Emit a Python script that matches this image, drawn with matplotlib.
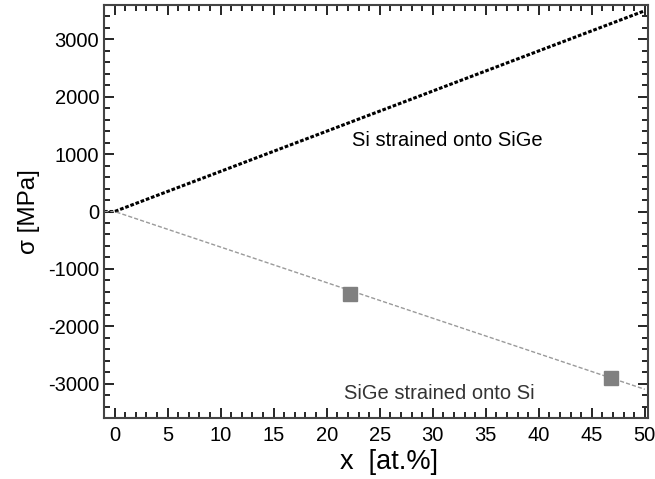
import matplotlib
matplotlib.use("Agg")
import matplotlib.pyplot as plt
from matplotlib.ticker import MultipleLocator

plt.rcParams['font.family'] = ['Liberation Sans', 'DejaVu Sans']
plt.rcParams['axes.unicode_minus'] = False

# Data
x_si = [-1, 0, 50]
sigma_si = [0, 0, 3500]
x_sige = [-1, 0, 50]
sigma_sige = [0, 0, -3100]
x_meas = [22.2, 46.8]
sigma_meas = [-1430, -2900]

fig = plt.figure(figsize=(6.55, 4.79), dpi=100)
ax = fig.add_axes([104/655, 1-418/479, (648-104)/655, (418-5)/479])

ax.plot(x_si, sigma_si, color='black', lw=2.2, linestyle=(0, (1.2, 0.6)))
ax.plot(x_sige, sigma_sige, color='#9a9a9a', lw=1.0, linestyle=(0, (3, 1.5)))
ax.plot(x_meas, sigma_meas, linestyle='none', marker='s', ms=10, color='#808080')

ax.set_xlim(-1, 50.3)
ax.set_ylim(-3600, 3600)
ax.xaxis.set_major_locator(MultipleLocator(5))
ax.xaxis.set_minor_locator(MultipleLocator(1))
ax.yaxis.set_major_locator(MultipleLocator(1000))
ax.yaxis.set_minor_locator(MultipleLocator(200))
ax.tick_params(which='both', direction='in', top=True, right=True, labelsize=14.5, width=1.2)
ax.tick_params(which='major', length=7)
ax.tick_params(which='minor', length=4)
ax.tick_params(axis='x', pad=6)
for s in ax.spines.values():
    s.set_linewidth(1.5)
    s.set_color('#444444')

ax.text(22.4, 1230, 'Si strained onto SiGe', fontsize=14.5, va='center', ha='left')
ax.text(21.6, -3170, 'SiGe strained onto Si', fontsize=14.5, va='center', ha='left', color='#333333')

ax.set_xlabel('x  [at.%]', fontsize=19.5)
ax.xaxis.set_label_coords((389 - 104) / (648 - 104), -0.075)
ax.set_ylabel('σ [MPa]', fontsize=17.5, labelpad=6)

fig.savefig('out.png', dpi=100)
